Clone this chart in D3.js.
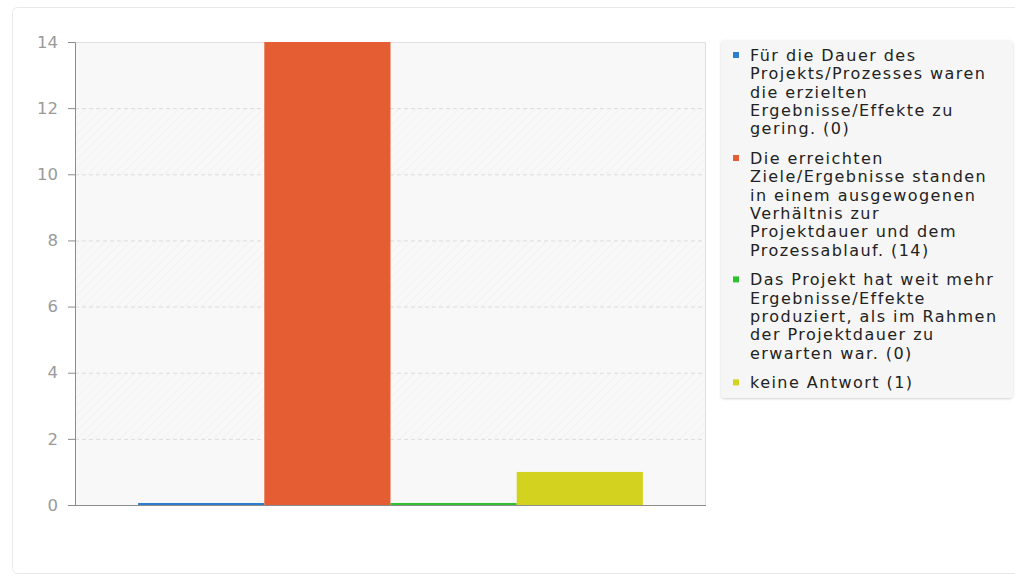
<!DOCTYPE html>
<html><head><meta charset="utf-8">
<script src="https://cdn.jsdelivr.net/npm/d3@7"></script>
<style>
html,body{margin:0;padding:0;background:#fff;}
svg{display:block;font-family:"DejaVu Sans",sans-serif;}
</style></head>
<body>
<svg id="chart" width="1015" height="579"></svg>
<script>
const categories = [
  "Für die Dauer des Projekts/Prozesses waren die erzielten Ergebnisse/Effekte zu gering.",
  "Die erreichten Ziele/Ergebnisse standen in einem ausgewogenen Verhältnis zur Projektdauer und dem Prozessablauf.",
  "Das Projekt hat weit mehr Ergebnisse/Effekte produziert, als im Rahmen der Projektdauer zu erwarten war.",
  "keine Antwort"
];
const values = [0, 14, 0, 1];
const colors = ["#2b7fce", "#e55e33", "#2ec22e", "#d2d21f"];
const yTicks = [0, 2, 4, 6, 8, 10, 12, 14];

const svg = d3.select("#chart");
const W = 1015, H = 579;
const m = {left: 75, top: 42, right: 309, bottom: 74};
const pw = W - m.left - m.right, ph = H - m.top - m.bottom;

// card
svg.append("rect").attr("x", 12.5).attr("y", 7.5).attr("width", 1010).attr("height", 566)
  .attr("rx", 5).attr("fill", "#fff").attr("stroke", "#e9e9e9");

const defs = svg.append("defs");
const pat = defs.append("pattern").attr("id", "hatch").attr("patternUnits", "userSpaceOnUse")
  .attr("width", 6).attr("height", 6).attr("patternTransform", "rotate(45)");
pat.append("rect").attr("width", 6).attr("height", 6).attr("fill", "#f8f8f8");
pat.append("line").attr("x1", 0).attr("y1", 0).attr("x2", 0).attr("y2", 6)
  .attr("stroke", "#eeeeee").attr("stroke-width", 1.2);
const f = defs.append("filter").attr("id", "sh").attr("x", "-5%").attr("y", "-5%").attr("width", "110%").attr("height", "115%");
f.append("feDropShadow").attr("dx", 0).attr("dy", 1).attr("stdDeviation", 1).attr("flood-color", "#000").attr("flood-opacity", 0.18);

const g = svg.append("g").attr("transform", `translate(${m.left},${m.top})`);

const y = d3.scaleLinear().domain([0, 14]).range([ph, 0]);
const x0 = d3.scaleBand().domain(["all"]).range([0, pw]).paddingInner(0.2).paddingOuter(0.1);
const x1 = d3.scaleBand().domain(categories).range([0, x0.bandwidth()]).padding(0);

// background
g.append("rect").attr("width", pw).attr("height", ph).attr("fill", "#f8f8f8");
// hatched bands
const bands = d3.pairs(yTicks).filter((p, i) => i % 2 === 1);
g.selectAll(".band").data(bands).join("rect")
  .attr("x", 0).attr("width", pw)
  .attr("y", d => y(d[1])).attr("height", d => y(d[0]) - y(d[1]))
  .attr("fill", "url(#hatch)");
// grid
g.selectAll(".grid").data(yTicks.filter(t => t > 0 && t < 14)).join("line")
  .attr("x1", 0).attr("x2", pw).attr("y1", d => y(d) + 0.5).attr("y2", d => y(d) + 0.5)
  .attr("stroke", "#dcdcdc").attr("stroke-dasharray", "4,3");
// frame top/right
g.append("path").attr("d", `M0,0.5H${pw - 0.5}V${ph}`).attr("fill", "none").attr("stroke", "#e0e0e0");

// bars
const grp = g.append("g").attr("transform", `translate(${x0("all")},0)`);
grp.selectAll("rect").data(values).join("rect")
  .attr("x", (d, i) => x1(categories[i]))
  .attr("width", x1.bandwidth())
  .attr("y", d => Math.min(y(d), y(0) - 2))
  .attr("height", d => Math.max(2, y(0) - y(d)))
  .attr("fill", (d, i) => colors[i]);

// axes
const yAxis = g.append("g").call(d3.axisLeft(y).tickValues(yTicks).tickSize(7).tickPadding(10));
yAxis.select(".domain").attr("stroke", "#8c8c8c");
yAxis.selectAll(".tick line").attr("stroke", "#8c8c8c");
yAxis.selectAll(".tick text").attr("fill", "#9a9a9a").style("font-size", "16.5px")
  .style("font-family", "DejaVu Sans, sans-serif");
g.append("line").attr("x1", 0).attr("x2", pw).attr("y1", ph + 0.5).attr("y2", ph + 0.5).attr("stroke", "#8c8c8c");

// legend
const lg = svg.append("g");
lg.append("rect").attr("x", 721).attr("y", 40).attr("width", 292).attr("height", 358)
  .attr("rx", 4).attr("fill", "#f6f6f6").attr("filter", "url(#sh)");

const lineStep = 18.4, gap = 11, maxW = 251, ls = "1.45px";
let cy = 55;
categories.forEach((c, i) => {
  const label = `${c} (${values[i]})`;
  const t = lg.append("text").attr("x", 750).attr("fill", "#222")
    .style("font-size", "16px").style("letter-spacing", ls);
  const words = label.split(" ");
  let lines = [], cur = [];
  const probe = lg.append("text").style("font-size", "16px").style("letter-spacing", ls);
  words.forEach(w => {
    const test = cur.concat([w]).join(" ");
    probe.text(test);
    if (cur.length && probe.node().getComputedTextLength() > maxW) { lines.push(cur.join(" ")); cur = [w]; }
    else cur.push(w);
  });
  lines.push(cur.join(" "));
  probe.remove();
  lines.forEach((l, k) => {
    t.append("tspan").attr("x", 750).attr("y", cy + k * lineStep).attr("dy", "0.36em").text(l);
  });
  lg.append("rect").attr("x", 733).attr("y", cy - 3).attr("width", 6).attr("height", 6).attr("fill", colors[i]);
  cy += lines.length * lineStep + gap;
});
</script>
</body></html>
